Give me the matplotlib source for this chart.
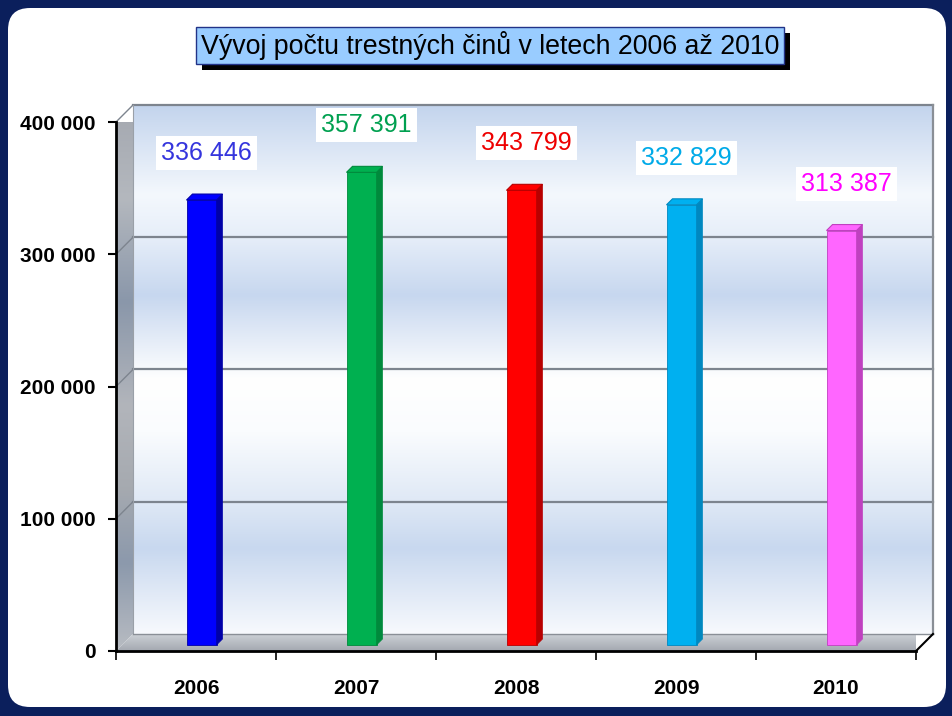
import numpy as np
import matplotlib
matplotlib.use('Agg')
import matplotlib.pyplot as plt
from matplotlib.patches import Polygon, FancyBboxPatch, Rectangle
from matplotlib.colors import LinearSegmentedColormap
from matplotlib.transforms import IdentityTransform

# data
years = ['2006', '2007', '2008', '2009', '2010']
counts = [336446, 357391, 343799, 332829, 313387]
count_labels = ['336 446', '357 391', '343 799', '332 829', '313 387']
bar_colors = ['#0000ff', '#00b050', '#ff0000', '#00b0f0', '#ff66ff']
side_colors = ['#0000a8', '#008a3c', '#b80000', '#0088c0', '#c040c0']
label_colors = ['#3535dd', '#00a050', '#ee0000', '#00aae8', '#ff00ff']
yticks = [0, 100000, 200000, 300000, 400000]
ytick_labels = ['0', '100 000', '200 000', '300 000', '400 000']
title = 'Vývoj počtu trestných činů v letech 2006 až 2010'

plt.rcParams['font.family'] = ['Liberation Sans', 'DejaVu Sans']

W, H = 953, 716
fig = plt.figure(figsize=(W / 100, H / 100), dpi=100)
fig.patch.set_facecolor('#0b1f5c')

# white rounded panel (pixel coords, y from the bottom)
panel = FancyBboxPatch((8, H - 707), 938, 699, boxstyle='round,pad=0,rounding_size=22',
                       transform=IdentityTransform(), fc='white', ec='none', zorder=-5)
fig.add_artist(panel)

# title box with shadow
fig.add_artist(Rectangle((202, H - 70), 588, 37, transform=IdentityTransform(),
                         fc='black', ec='none', zorder=-4))
fig.add_artist(Rectangle((196, H - 64), 588, 37, transform=IdentityTransform(),
                         fc='#99ccff', ec='#223388', lw=1, zorder=-3))
fig.text(490 / W, 1 - 46 / H, title, ha='center', va='center', fontsize=19.3,
         family=['Liberation Sans Narrow', 'Liberation Sans', 'DejaVu Sans'])

# axes = front plane of the 3D chart
ax = fig.add_axes([116 / W, (H - 651) / H, 800 / W, 529 / H])
ax.patch.set_visible(False)

ux = 800 / 5.0          # px per category
uy = 529 / 400000.0     # px per unit of value


def dx(p):
    return p / ux


def dy(p):
    return p / uy


D = 17  # depth of the wall / floor in px
x0, x1 = -0.5, 4.5
ymax = 400000

# back wall gradient
wall_cmap = LinearSegmentedColormap.from_list('wall', [
    (0.0, '#c3d4ed'), (0.17, '#f4f8fd'), (0.25, '#e6eef9'), (0.36, '#c7d7ef'),
    (0.52, '#ffffff'), (0.62, '#fafcfe'), (0.76, '#dde7f5'), (0.84, '#c8d8ef'),
    (1.0, '#f7f9fd')])
grad = np.linspace(0, 1, 256).reshape(-1, 1)
ax.imshow(grad, extent=(x0 + dx(D), x1 + dx(D), dy(D), ymax + dy(D)), aspect='auto',
          cmap=wall_cmap, zorder=0, clip_on=False, interpolation='bilinear')

# side wall
side_cmap = LinearSegmentedColormap.from_list('side', [
    (0.0, '#a4a8b0'), (0.17, '#b4b8be'), (0.36, '#8a97aa'), (0.55, '#b2b5bb'),
    (0.7, '#a6aab0'), (0.84, '#8c99ac'), (1.0, '#b8bcc2')])
side_poly = Polygon([(x0, 0), (x0 + dx(D), dy(D)), (x0 + dx(D), ymax + dy(D)), (x0, ymax)],
                    closed=True, transform=ax.transData, fc='none', ec='none')
im = ax.imshow(grad, extent=(x0, x0 + dx(D), 0, ymax + dy(D)), aspect='auto',
               cmap=side_cmap, zorder=0.5, interpolation='bilinear')
im.set_clip_path(side_poly)
im.set_clip_box(None)

# floor
floor_cmap = LinearSegmentedColormap.from_list('floor', ['#cdd1d6', '#a3a8b0'])
floor_poly = Polygon([(x0, 0), (x1, 0), (x1 + dx(D), dy(D)), (x0 + dx(D), dy(D))],
                     closed=True, transform=ax.transData, fc='none', ec='none')
im2 = ax.imshow(grad, extent=(x0, x1 + dx(D), 0, dy(D)), aspect='auto',
                cmap=floor_cmap, zorder=0.5, interpolation='bilinear')
im2.set_clip_path(floor_poly)
im2.set_clip_box(None)

# gridlines on the wall and the side wall
for v in yticks[1:]:
    ax.plot([x0 + dx(D), x1 + dx(D)], [v + dy(D)] * 2, color='#7d848e', lw=1.6, zorder=1, clip_on=False)
    ax.plot([x0, x0 + dx(D)], [v, v + dy(D)], color='#7d848e', lw=1.0, zorder=1, clip_on=False)
ax.plot([x1 + dx(D)] * 2, [dy(D), ymax + dy(D)], color='#8a8f96', lw=1.6, zorder=1, clip_on=False)
ax.plot([x0 + dx(D), x0 + dx(D)], [dy(D), ymax + dy(D)], color='#9aa0a8', lw=0.8, zorder=1, clip_on=False)
ax.plot([x0 + dx(D), x1 + dx(D)], [dy(D)] * 2, color='#8a8f96', lw=1.0, zorder=1, clip_on=False)
ax.plot([x1, x1 + dx(D)], [0, dy(D)], color='black', lw=1.5, zorder=1, clip_on=False)

# bars
xs = np.arange(len(years)) + dx(5.5)
bw = 30 / ux
bd = 6  # bar depth in px
ax.bar(xs, counts, width=bw, bottom=dy(6), color=bar_colors, edgecolor=side_colors,
       linewidth=0.6, zorder=3, clip_on=False)
for x, v, sc, bc in zip(xs, counts, side_colors, bar_colors):
    xl, xr = x - bw / 2, x + bw / 2
    top = v + dy(6)
    ax.add_patch(Polygon([(xr, dy(6)), (xr + dx(bd), dy(6) + dy(bd)), (xr + dx(bd), top + dy(bd)), (xr, top)],
                         closed=True, fc=sc, ec=sc, lw=0.5, zorder=3, clip_on=False))
    ax.add_patch(Polygon([(xl, top), (xr, top), (xr + dx(bd), top + dy(bd)), (xl + dx(bd), top + dy(bd))],
                         closed=True, fc=bc, ec=sc, lw=0.8, zorder=3, clip_on=False))

# value labels
for x, v, lbl, c in zip(xs, counts, count_labels, label_colors):
    ax.annotate(lbl, xy=(x, v + dy(6)), xytext=(5, 47), textcoords='offset pixels',
                ha='center', va='center', fontsize=18, color=c, zorder=5,
                bbox=dict(boxstyle='square,pad=0.2', fc='white', ec='none'))

ax.set_xlim(x0, x1)
ax.set_ylim(0, ymax)

for s in ['top', 'right']:
    ax.spines[s].set_visible(False)
for s in ['left', 'bottom']:
    ax.spines[s].set_linewidth(2)
    ax.spines[s].set_color('black')
    ax.spines[s].set_zorder(4)

ax.set_yticks(yticks, ytick_labels, fontsize=15, fontweight='bold')
ax.tick_params(axis='y', length=5.8, width=1.5, pad=9)
ax.set_xticks(np.arange(x0, x1 + 0.5, 1.0))
ax.set_xticklabels([])
ax.tick_params(axis='x', which='major', length=6.5, width=1.2)
ax.set_xticks(np.arange(len(years)), years, minor=True, fontsize=15, fontweight='bold')
ax.tick_params(axis='x', which='minor', length=0, pad=20)

fig.savefig('out.png', dpi=100, facecolor=fig.get_facecolor())
